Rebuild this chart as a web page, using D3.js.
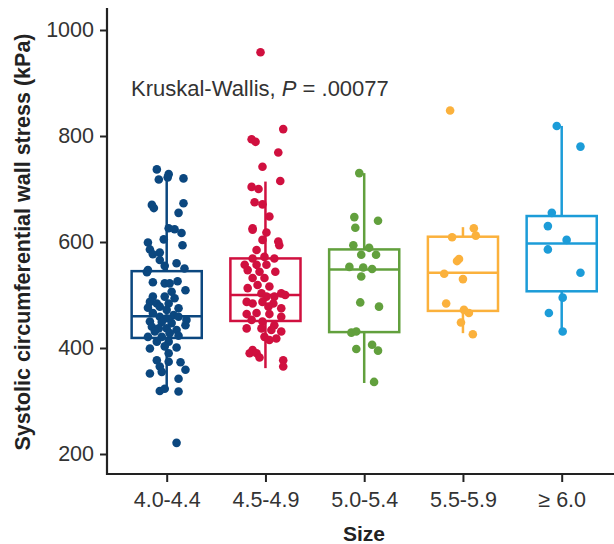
<!doctype html>
<html lang="en">
<head>
<meta charset="utf-8">
<script src="https://cdnjs.cloudflare.com/ajax/libs/d3/7.8.5/d3.min.js"></script>
<style>
  body { margin: 0; background: #fff; }
  svg text { font-family: 'Liberation Sans', Arial, sans-serif; }
  .tick text { fill: #333; font-size: 21.5px; }
</style>
</head>
<body>
<script>

// Categories and colours
const sizes = ["4.0-4.4", "4.5-4.9", "5.0-5.4", "5.5-5.9", "\u2265 6.0"]
const colors = ["#0b477f", "#d0103f", "#62a03d", "#fbb13c", "#1c9cd8"]
const yTicks = [200, 400, 600, 800, 1000]

// Box stats: [lower whisker, q1, median, q3, upper whisker]
const boxStats = [
  [321, 419, 460, 545, 724],
  [362, 451, 500, 569, 714],
  [334, 430, 548, 586, 730],
  [428, 470, 542, 610, 628],
  [431, 507, 597, 649, 819]
]

// Points: [value (kPa), horizontal jitter as share of category step]
const pts1 = [
  [737,-0.10],[728,0.02],[718,-0.08],[722,0.01],[720,0.17],[670,-0.15],[664,-0.13],[673,0.17],
  [655,0.12],[626,0.02],[624,0.08],[617,0.15],[605,-0.03],[599,-0.19],[594,0.16],[586,-0.17],
  [580,-0.07],[577,-0.14],[566,-0.07],[560,0.10],[555,-0.02],[550,0.18],[547,-0.19],[543,-0.20],
  [524,-0.14],[522,-0.02],[522,0.03],[526,0.11],[509,0.19],[506,0.05],[497,-0.14],[497,-0.02],
  [494,0.08],[487,-0.17],[484,-0.10],[484,0.02],[476,-0.19],[478,-0.07],[472,0.00],[475,0.12],
  [466,-0.14],[462,0.07],[459,-0.07],[456,0.00],[459,0.12],[453,0.20],[450,-0.17],[449,-0.05],
  [447,0.05],[443,0.19],[440,-0.15],[437,-0.08],[437,0.00],[434,0.10],[431,-0.12],[428,0.03],
  [421,-0.19],[421,-0.05],[423,0.12],[412,-0.10],[412,0.02],[399,-0.17],[403,-0.02],[401,0.10],
  [390,0.02],[377,-0.10],[374,0.02],[373,0.14],[365,-0.07],[359,0.19],[352,-0.17],[355,-0.05],
  [342,0.12],[319,-0.07],[323,-0.02],[318,0.12],[221,0.10]
]
const pts2 = [
  [958,-0.05],[813,0.18],[794,-0.14],[789,-0.10],[769,0.13],[742,-0.03],[715,0.15],[704,-0.14],
  [700,-0.07],[675,-0.11],[671,-0.03],[648,0.04],[626,-0.13],[623,-0.13],[618,0.01],[604,-0.03],
  [601,0.13],[594,0.14],[585,-0.09],[572,-0.01],[569,-0.13],[569,0.09],[557,-0.21],[557,-0.09],
  [557,0.01],[547,-0.18],[544,-0.06],[544,0.10],[532,-0.13],[532,-0.01],[519,-0.08],[516,0.04],
  [513,-0.18],[503,-0.04],[503,0.16],[500,0.20],[497,0.01],[497,0.09],[487,-0.19],[484,-0.13],
  [487,-0.03],[484,0.08],[478,0.03],[475,0.16],[464,-0.19],[466,-0.09],[464,0.04],[459,0.16],
  [453,-0.14],[450,-0.03],[443,0.09],[437,-0.19],[437,-0.04],[434,0.06],[431,0.16],[421,-0.01],
  [415,0.04],[418,0.11],[396,-0.13],[390,-0.16],[390,-0.09],[382,-0.06],[377,0.18],[365,0.18]
]
const pts3 = [
  [730,-0.05],[647,-0.10],[640,0.14],[627,-0.09],[594,-0.11],[589,0.05],[576,-0.03],[576,0.12],
  [553,-0.15],[552,-0.01],[549,0.08],[535,-0.03],[486,-0.04],[478,0.15],[429,-0.13],[431,-0.08],
  [398,-0.08],[406,0.08],[395,0.14],[336,0.10]
]
const pts4 = [
  [848,-0.13],[626,0.11],[609,-0.11],[612,0.13],[564,-0.06],[568,-0.04],[540,-0.19],[530,0.00],
  [484,-0.17],[472,0.01],[466,0.06],[448,-0.02],[426,0.10]
]
const pts5 = [
  [819,-0.05],[780,0.19],[655,-0.10],[630,-0.14],[604,0.05],[586,-0.14],[542,0.19],[495,0.01],
  [466,-0.13],[431,0.01]
]
const groups = [pts1, pts2, pts3, pts4, pts5]

// Canvas
const w = 614
const h = 544
const axisLeftX = 107
const axisTopY = 8
const axisBottomY = 474

const svg = d3.select("body").append("svg")
  .attr("width", w)
  .attr("height", h)

// Scales
const yScale = d3.scaleLinear().domain([200, 1000]).range([454, 30])
const xScale = d3.scalePoint().domain(sizes).range([166.7, 561.7])
const step = xScale.step()
const boxW = step * 0.71

// Axes
svg.append("g")
  .attr("transform", "translate(" + axisLeftX + ",0)")
  .call(d3.axisLeft(yScale).tickValues(yTicks).tickFormat(d3.format("d")).tickSize(7).tickPadding(6))
  .call(g => g.select(".domain").remove())
  .call(g => g.selectAll(".tick line").attr("stroke", "#222").attr("stroke-width", 2))

svg.append("g")
  .attr("transform", "translate(0," + axisBottomY + ")")
  .call(d3.axisBottom(xScale).tickSize(8).tickPadding(10))
  .call(g => g.select(".domain").remove())
  .call(g => g.selectAll(".tick line").attr("stroke", "#222").attr("stroke-width", 2))

svg.append("path")
  .attr("d", "M" + axisLeftX + "," + axisTopY + "V" + axisBottomY + "H" + w)
  .attr("fill", "none")
  .attr("stroke", "#222")
  .attr("stroke-width", 2.2)

// Box plots
const box = svg.selectAll(".box")
  .data(boxStats)
  .enter()
  .append("g")
  .attr("class", "box")
  .attr("stroke", (d, i) => colors[i])
  .attr("stroke-width", 2.5)
  .attr("fill", "none")

box.append("line")
  .attr("x1", (d, i) => xScale(sizes[i]))
  .attr("x2", (d, i) => xScale(sizes[i]))
  .attr("y1", d => yScale(d[3]))
  .attr("y2", d => yScale(d[4]))
box.append("line")
  .attr("x1", (d, i) => xScale(sizes[i]))
  .attr("x2", (d, i) => xScale(sizes[i]))
  .attr("y1", d => yScale(d[0]))
  .attr("y2", d => yScale(d[1]))
box.append("rect")
  .attr("x", (d, i) => xScale(sizes[i]) - boxW / 2)
  .attr("y", d => yScale(d[3]))
  .attr("width", boxW)
  .attr("height", d => yScale(d[1]) - yScale(d[3]))
box.append("line")
  .attr("x1", (d, i) => xScale(sizes[i]) - boxW / 2)
  .attr("x2", (d, i) => xScale(sizes[i]) + boxW / 2)
  .attr("y1", d => yScale(d[2]))
  .attr("y2", d => yScale(d[2]))

// Jittered points
groups.forEach((pts, i) => {
  svg.append("g")
    .selectAll("circle")
    .data(pts)
    .enter()
    .append("circle")
    .attr("cx", d => xScale(sizes[i]) + d[1] * step)
    .attr("cy", d => yScale(d[0]))
    .attr("r", 4.3)
    .attr("fill", colors[i])
})

// Annotation
const note = svg.append("text")
  .attr("x", 131)
  .attr("y", 96)
  .attr("fill", "#333")
  .style("font-size", "22px")
note.append("tspan").text("Kruskal-Wallis, ")
note.append("tspan").style("font-style", "italic").text("P")
note.append("tspan").text(" = .00077")

// Axis titles
svg.append("text")
  .attr("x", 364)
  .attr("y", 541)
  .attr("text-anchor", "middle")
  .attr("fill", "#222")
  .style("font-size", "21px")
  .style("font-weight", "bold")
  .text("Size")

svg.append("text")
  .attr("transform", "rotate(-90)")
  .attr("x", -242)
  .attr("y", 30)
  .attr("text-anchor", "middle")
  .attr("fill", "#222")
  .style("font-size", "21.5px")
  .style("font-weight", "bold")
  .text("Systolic circumferential wall stress (kPa)")

</script>
</body>
</html>
